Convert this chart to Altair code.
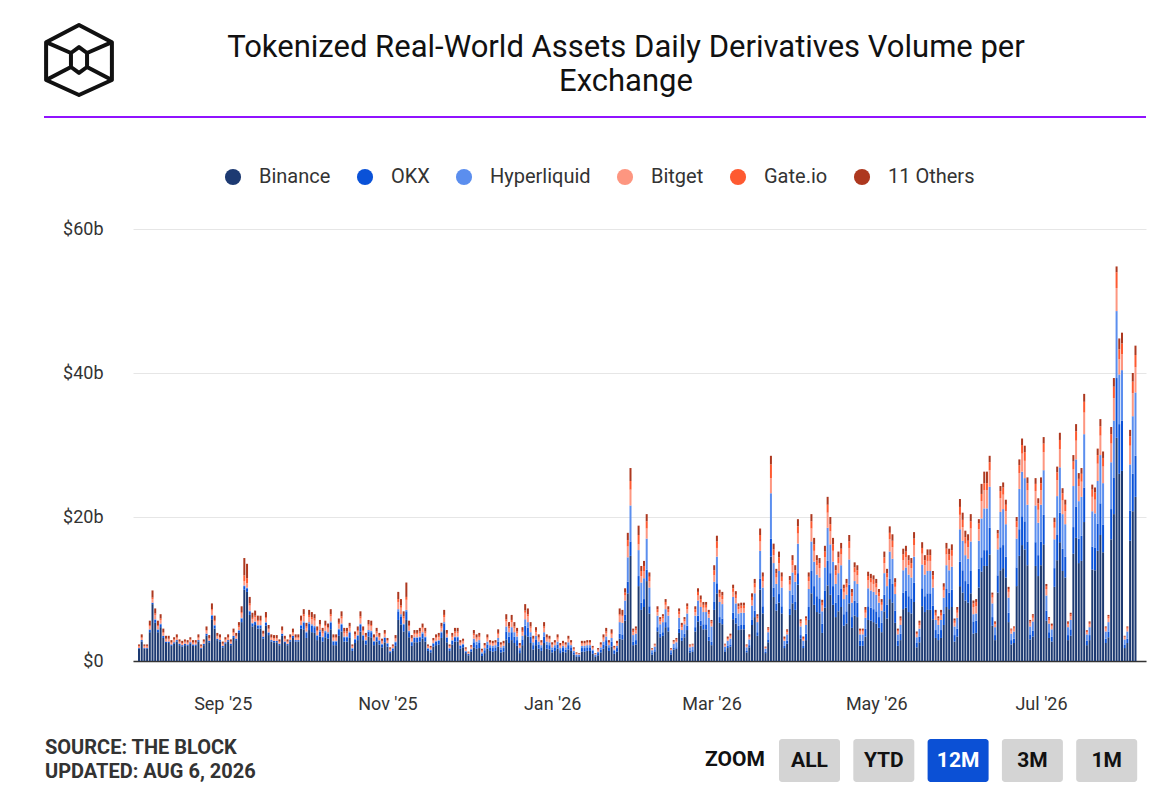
import altair as alt
import pandas as pd

# ---------------- data ----------------
dates = pd.date_range("2025-08-01", "2026-08-05", freq="D").strftime("%Y-%m-%d").tolist()

exchanges = ["Binance", "OKX", "Hyperliquid", "Bitget", "Gate.io", "11 Others"]
colors = ["#1d3a72", "#0a52d8", "#5b8eee", "#fd9680", "#fe5a31", "#ad381f"]

# daily volume, $b (one row = 10 days)
binance = [
    1.7, 2.7, 1.7, 1.7, 4.0, 7.9, 5.3, 4.0, 4.7, 3.2,
    2.5, 2.5, 2.1, 2.4, 2.7, 2.2, 2.0, 2.2, 2.1, 2.4,
    2.1, 2.1, 2.7, 1.7, 2.2, 3.5, 2.6, 5.8, 4.5, 2.9,
    2.7, 1.9, 2.4, 2.7, 2.2, 3.2, 2.9, 3.9, 5.4, 9.9,
    9.6, 6.4, 4.8, 5.0, 4.5, 4.5, 3.1, 4.9, 3.6, 2.7,
    2.6, 2.6, 2.2, 3.5, 2.5, 2.2, 2.7, 3.2, 2.7, 2.7,
    4.5, 4.4, 3.2, 4.3, 4.0, 3.9, 2.9, 3.4, 2.7, 3.3,
    3.1, 4.4, 2.2, 2.2, 3.5, 4.1, 2.7, 2.7, 3.2, 1.4,
    2.5, 2.9, 4.1, 2.9, 2.3, 3.4, 3.3, 2.2, 2.7, 2.3,
    1.9, 2.6, 2.0, 1.1, 1.4, 2.1, 5.7, 5.1, 4.1, 5.7,
    3.3, 2.1, 2.6, 2.6, 2.7, 3.1, 2.7, 1.4, 1.2, 2.0,
    2.2, 2.3, 3.2, 4.3, 2.6, 1.4, 2.3, 2.7, 2.7, 1.7,
    1.9, 1.1, 0.8, 1.3, 1.9, 1.7, 1.8, 0.7, 1.1, 1.7,
    1.4, 1.3, 1.4, 2.0, 1.2, 1.3, 3.0, 2.5, 2.9, 2.5,
    2.1, 1.1, 2.2, 3.6, 3.4, 2.5, 1.6, 2.2, 1.7, 1.4,
    2.5, 1.7, 1.6, 1.2, 1.4, 1.7, 1.1, 1.3, 1.2, 1.6,
    1.4, 0.9, 0.6, 0.6, 1.3, 1.3, 1.4, 1.4, 1.0, 0.6,
    0.8, 1.2, 1.7, 2.1, 1.4, 2.0, 1.0, 1.3, 3.1, 3.0,
    5.6, 9.4, 14.6, 2.2, 2.3, 10.4, 7.1, 7.5, 11.1, 6.6,
    0.9, 1.3, 4.1, 3.3, 3.5, 4.7, 4.1, 0.9, 1.6, 1.7,
    3.9, 2.8, 3.3, 4.3, 1.2, 1.3, 4.1, 5.5, 4.9, 4.4,
    4.4, 2.8, 2.2, 7.1, 9.4, 5.3, 5.1, 1.3, 1.8, 2.0,
    5.8, 5.2, 4.3, 4.4, 4.4, 1.2, 1.9, 5.0, 6.1, 3.5,
    9.9, 6.6, 1.1, 2.6, 14.5, 8.9, 7.0, 8.1, 6.6, 1.8,
    2.4, 6.4, 8.0, 7.1, 10.6, 3.1, 1.8, 2.9, 5.7, 9.4,
    7.8, 6.8, 6.6, 3.9, 7.4, 10.5, 9.2, 7.8, 6.1, 6.9,
    7.5, 4.9, 5.2, 8.0, 4.6, 6.3, 6.1, 2.1, 2.1, 3.4,
    5.7, 5.6, 5.4, 5.2, 4.6, 4.0, 6.9, 5.9, 8.6, 8.1,
    5.3, 2.1, 2.9, 7.2, 7.4, 6.8, 6.6, 8.2, 1.9, 2.6,
    7.6, 6.8, 7.1, 7.1, 5.8, 3.2, 2.9, 3.2, 5.0, 7.5,
    7.2, 7.5, 2.7, 3.4, 10.4, 9.5, 8.4, 8.1, 9.4, 3.8,
    3.9, 10.2, 12.4, 13.2, 13.2, 14.8, 4.9, 2.9, 9.5, 12.6,
    12.9, 11.6, 5.4, 2.3, 2.5, 10.4, 14.6, 16.1, 15.5, 13.3,
    3.0, 3.4, 13.2, 11.8, 13.3, 16.2, 5.6, 3.2, 2.7, 10.3,
    14.0, 16.5, 12.5, 11.6, 2.9, 3.5, 14.9, 17.1, 13.6, 13.9,
    19.3, 2.2, 2.9, 12.7, 12.6, 15.3, 17.5, 15.1, 2.5, 3.3,
    16.9, 20.4, 31.0, 26.0, 26.4, 1.8, 2.5, 16.7, 20.8, 22.8,
]

okx = [
    0.1, 0.2, 0.1, 0.1, 0.3, 0.2, 0.4, 0.3, 0.4, 0.3,
    0.2, 0.2, 0.2, 0.2, 0.2, 0.2, 0.2, 0.2, 0.2, 0.2,
    0.2, 0.2, 0.2, 0.1, 0.2, 0.3, 0.2, 0.5, 0.4, 0.2,
    0.2, 0.2, 0.2, 0.2, 0.2, 0.3, 0.2, 0.3, 0.5, 0.5,
    0.5, 0.5, 0.4, 0.4, 0.4, 0.4, 0.3, 0.4, 0.3, 0.2,
    0.2, 0.2, 0.2, 0.3, 0.2, 0.2, 0.2, 0.3, 0.2, 0.2,
    0.4, 0.9, 0.7, 0.9, 0.9, 0.8, 0.6, 0.7, 0.6, 0.7,
    0.7, 0.9, 0.5, 0.5, 0.8, 0.9, 0.6, 0.6, 0.7, 0.3,
    0.5, 0.6, 0.9, 0.6, 0.5, 0.7, 0.7, 0.5, 0.6, 0.5,
    0.4, 0.6, 0.4, 0.2, 0.3, 0.5, 1.2, 1.1, 0.9, 1.2,
    0.7, 0.5, 0.6, 0.6, 0.6, 0.7, 0.6, 0.3, 0.3, 0.4,
    0.5, 0.5, 0.7, 0.9, 0.6, 0.3, 0.5, 0.6, 0.6, 0.4,
    0.4, 0.2, 0.2, 0.3, 0.7, 0.6, 0.7, 0.3, 0.4, 0.6,
    0.5, 0.5, 0.5, 0.7, 0.4, 0.5, 1.1, 0.9, 1.1, 0.9,
    0.8, 0.4, 0.8, 1.3, 1.2, 0.9, 0.6, 0.8, 0.6, 0.5,
    0.9, 0.6, 0.6, 0.4, 0.5, 0.6, 0.4, 0.5, 0.4, 0.6,
    0.5, 0.3, 0.2, 0.2, 0.5, 0.5, 0.5, 0.5, 0.4, 0.2,
    0.3, 0.4, 0.6, 0.8, 0.5, 0.7, 0.4, 0.5, 0.7, 0.7,
    0.8, 1.6, 2.0, 0.5, 0.6, 1.4, 1.0, 1.1, 1.6, 1.0,
    0.2, 0.2, 0.6, 0.5, 0.5, 0.7, 0.6, 0.2, 0.2, 0.2,
    0.6, 0.4, 0.5, 0.6, 0.2, 0.2, 0.6, 0.8, 0.7, 0.7,
    0.7, 0.6, 0.5, 1.1, 1.4, 0.8, 0.8, 0.2, 0.3, 0.3,
    0.9, 0.8, 0.6, 0.6, 0.6, 0.2, 0.3, 0.7, 0.9, 0.5,
    1.5, 1.0, 0.2, 0.4, 2.5, 1.3, 1.0, 1.2, 1.0, 0.3,
    0.4, 0.9, 1.2, 1.1, 1.6, 0.5, 0.3, 0.9, 1.8, 3.1,
    2.6, 2.2, 2.1, 1.3, 2.4, 3.4, 3.0, 2.6, 2.0, 2.3,
    2.5, 1.6, 1.7, 2.6, 1.5, 2.1, 2.0, 0.7, 0.7, 1.1,
    1.9, 1.8, 1.8, 1.7, 1.5, 1.3, 2.3, 1.9, 2.8, 2.6,
    1.7, 0.7, 0.9, 2.3, 2.4, 2.2, 2.1, 2.7, 0.6, 0.8,
    2.5, 2.2, 2.3, 2.3, 1.9, 1.1, 0.9, 1.1, 1.6, 2.5,
    2.3, 2.4, 0.9, 1.1, 3.4, 3.1, 2.7, 2.6, 3.1, 1.7,
    1.7, 2.6, 2.0, 2.2, 2.2, 3.7, 1.2, 0.7, 2.4, 3.2,
    3.2, 2.9, 1.3, 0.6, 0.6, 2.6, 3.7, 4.0, 3.9, 3.3,
    0.7, 0.8, 3.3, 2.9, 3.3, 4.1, 1.4, 0.8, 0.7, 2.6,
    3.5, 4.1, 3.1, 2.9, 0.7, 0.9, 3.7, 4.3, 3.4, 3.5,
    4.8, 0.6, 0.7, 3.2, 3.1, 3.8, 4.4, 3.8, 0.6, 0.8,
    4.2, 5.1, 8.3, 6.9, 7.0, 0.5, 0.6, 4.2, 5.2, 5.7,
]

hyperliquid = [
    0.0, 0.0, 0.0, 0.0, 0.1, 0.0, 0.1, 0.1, 0.1, 0.0,
    0.0, 0.0, 0.0, 0.0, 0.0, 0.0, 0.0, 0.0, 0.0, 0.0,
    0.0, 0.0, 0.0, 0.0, 0.0, 0.0, 0.0, 0.1, 0.1, 0.0,
    0.0, 0.0, 0.0, 0.0, 0.0, 0.0, 0.0, 0.1, 0.1, 0.1,
    0.1, 0.1, 0.1, 0.1, 0.1, 0.1, 0.0, 0.1, 0.1, 0.0,
    0.0, 0.0, 0.0, 0.0, 0.0, 0.0, 0.0, 0.0, 0.0, 0.0,
    0.1, 0.2, 0.2, 0.2, 0.2, 0.2, 0.1, 0.2, 0.1, 0.2,
    0.2, 0.2, 0.1, 0.1, 0.2, 0.2, 0.1, 0.1, 0.2, 0.1,
    0.1, 0.1, 0.2, 0.1, 0.1, 0.2, 0.2, 0.1, 0.1, 0.1,
    0.1, 0.1, 0.1, 0.1, 0.1, 0.1, 0.3, 0.3, 0.2, 0.2,
    0.2, 0.1, 0.1, 0.1, 0.1, 0.2, 0.1, 0.1, 0.1, 0.1,
    0.1, 0.1, 0.2, 0.2, 0.1, 0.1, 0.1, 0.1, 0.1, 0.1,
    0.1, 0.1, 0.0, 0.1, 0.5, 0.4, 0.4, 0.2, 0.3, 0.4,
    0.3, 0.3, 0.3, 0.5, 0.3, 0.3, 0.7, 0.6, 0.7, 0.6,
    0.5, 0.3, 0.5, 0.9, 0.8, 0.6, 0.4, 0.5, 0.4, 0.3,
    0.6, 0.4, 0.4, 0.3, 0.3, 0.4, 0.3, 0.3, 0.3, 0.4,
    0.3, 0.2, 0.1, 0.1, 0.3, 0.3, 0.3, 0.3, 0.2, 0.1,
    0.2, 0.3, 0.4, 0.5, 0.3, 0.5, 0.2, 0.3, 1.6, 1.6,
    2.0, 3.4, 5.0, 0.9, 0.9, 3.6, 2.8, 2.9, 4.3, 2.6,
    0.4, 0.5, 1.6, 1.3, 1.4, 1.8, 1.6, 0.4, 0.6, 0.7,
    1.5, 1.1, 1.3, 1.7, 0.5, 0.5, 1.6, 2.1, 1.9, 1.7,
    1.7, 2.6, 2.1, 2.8, 3.7, 2.1, 2.0, 0.5, 0.7, 0.8,
    2.2, 2.0, 1.7, 1.7, 1.7, 0.5, 0.8, 2.0, 2.4, 1.4,
    3.9, 2.6, 0.4, 1.0, 6.3, 3.4, 2.7, 3.2, 2.6, 0.7,
    0.9, 2.5, 3.1, 2.8, 4.1, 1.2, 0.7, 1.2, 2.5, 4.1,
    3.4, 3.0, 2.9, 1.7, 3.2, 4.6, 4.0, 3.4, 2.6, 3.0,
    3.3, 2.1, 2.3, 3.5, 2.0, 2.7, 2.6, 0.9, 0.9, 1.5,
    2.5, 2.4, 2.4, 2.3, 2.0, 1.7, 3.0, 2.6, 3.8, 3.5,
    2.3, 0.9, 1.2, 3.1, 3.2, 3.0, 2.9, 3.6, 0.8, 1.1,
    3.3, 3.0, 3.1, 3.1, 2.5, 1.4, 1.2, 1.4, 2.2, 3.3,
    3.1, 3.2, 1.2, 1.5, 4.5, 4.1, 3.6, 3.5, 4.1, 1.0,
    1.0, 3.9, 5.4, 5.8, 5.8, 5.7, 1.9, 1.1, 3.6, 4.9,
    5.0, 4.5, 2.1, 0.9, 1.0, 4.0, 5.6, 6.2, 6.0, 5.1,
    1.1, 1.3, 5.1, 4.5, 5.1, 6.2, 2.1, 1.2, 1.0, 4.0,
    5.4, 6.3, 4.8, 4.5, 1.1, 1.3, 5.7, 6.6, 5.2, 5.4,
    7.4, 0.9, 1.1, 4.9, 4.8, 5.9, 6.7, 5.8, 1.0, 1.3,
    6.5, 7.9, 9.3, 6.9, 7.0, 0.7, 1.0, 6.4, 8.0, 8.8,
]

bitget = [
    0.2, 0.3, 0.2, 0.2, 0.4, 0.5, 0.6, 0.4, 0.5, 0.4,
    0.3, 0.3, 0.2, 0.3, 0.3, 0.2, 0.2, 0.2, 0.2, 0.3,
    0.2, 0.2, 0.3, 0.2, 0.2, 0.4, 0.3, 0.6, 0.5, 0.3,
    0.3, 0.2, 0.3, 0.3, 0.2, 0.4, 0.3, 0.4, 0.6, 0.6,
    0.6, 0.7, 0.5, 0.6, 0.5, 0.5, 0.3, 0.5, 0.4, 0.3,
    0.3, 0.3, 0.2, 0.4, 0.3, 0.2, 0.3, 0.4, 0.3, 0.3,
    0.5, 0.7, 0.5, 0.7, 0.7, 0.7, 0.5, 0.6, 0.5, 0.6,
    0.5, 0.7, 0.4, 0.4, 0.6, 0.7, 0.5, 0.5, 0.5, 0.2,
    0.4, 0.5, 0.7, 0.5, 0.4, 0.6, 0.6, 0.4, 0.5, 0.4,
    0.3, 0.4, 0.3, 0.2, 0.2, 0.4, 1.0, 0.9, 0.7, 1.4,
    0.6, 0.4, 0.4, 0.4, 0.5, 0.5, 0.5, 0.2, 0.2, 0.3,
    0.4, 0.4, 0.5, 0.7, 0.4, 0.2, 0.4, 0.5, 0.5, 0.3,
    0.3, 0.2, 0.1, 0.2, 0.5, 0.4, 0.4, 0.2, 0.3, 0.4,
    0.3, 0.3, 0.3, 0.5, 0.3, 0.3, 0.7, 0.6, 0.7, 0.6,
    0.5, 0.3, 0.5, 0.9, 0.8, 0.6, 0.4, 0.5, 0.4, 0.3,
    0.6, 0.4, 0.4, 0.3, 0.3, 0.4, 0.3, 0.3, 0.3, 0.4,
    0.3, 0.2, 0.1, 0.1, 0.3, 0.3, 0.3, 0.3, 0.2, 0.1,
    0.2, 0.3, 0.4, 0.5, 0.3, 0.5, 0.2, 0.3, 0.9, 0.9,
    0.7, 1.5, 2.2, 0.4, 0.5, 0.8, 0.9, 1.0, 1.4, 0.9,
    0.1, 0.2, 0.5, 0.4, 0.5, 0.6, 0.5, 0.1, 0.2, 0.2,
    0.5, 0.4, 0.4, 0.6, 0.2, 0.2, 0.5, 0.7, 0.6, 0.6,
    0.6, 0.5, 0.4, 0.9, 1.2, 0.7, 0.7, 0.2, 0.2, 0.3,
    0.7, 0.7, 0.6, 0.6, 0.6, 0.2, 0.3, 0.7, 0.8, 0.5,
    1.3, 0.9, 0.1, 0.3, 2.1, 1.1, 0.9, 1.1, 0.9, 0.2,
    0.3, 0.8, 1.0, 0.9, 1.4, 0.4, 0.2, 0.6, 1.1, 1.8,
    1.5, 1.3, 1.3, 0.8, 1.4, 2.1, 1.8, 1.5, 1.2, 1.4,
    1.5, 1.0, 1.0, 1.6, 0.9, 1.2, 1.2, 0.4, 0.4, 0.7,
    1.1, 1.1, 1.1, 1.0, 0.9, 0.8, 1.4, 1.2, 1.7, 1.6,
    1.0, 0.4, 0.6, 1.4, 1.4, 1.3, 1.3, 1.6, 0.4, 0.5,
    1.5, 1.3, 1.4, 1.4, 1.1, 0.6, 0.6, 0.6, 1.0, 1.5,
    1.4, 1.5, 0.5, 0.7, 2.0, 1.9, 1.6, 1.6, 1.8, 1.0,
    1.0, 1.6, 2.4, 2.5, 2.5, 2.3, 0.8, 0.4, 1.5, 1.9,
    2.0, 1.8, 0.8, 0.4, 0.4, 1.6, 2.2, 2.5, 2.4, 2.0,
    0.5, 0.5, 2.0, 1.8, 2.0, 2.5, 0.9, 0.5, 0.4, 1.6,
    2.2, 2.5, 1.9, 1.8, 0.4, 0.5, 2.3, 2.6, 2.1, 2.1,
    3.0, 0.3, 0.4, 2.0, 1.9, 2.4, 2.7, 2.3, 0.4, 0.5,
    2.6, 3.1, 3.2, 2.1, 2.2, 0.3, 0.4, 2.6, 3.2, 3.5,
]

gateio = [
    0.1, 0.1, 0.1, 0.1, 0.2, 0.2, 0.2, 0.2, 0.2, 0.1,
    0.1, 0.1, 0.1, 0.1, 0.1, 0.1, 0.1, 0.1, 0.1, 0.1,
    0.1, 0.1, 0.1, 0.1, 0.1, 0.1, 0.1, 0.2, 0.2, 0.1,
    0.1, 0.1, 0.1, 0.1, 0.1, 0.1, 0.1, 0.2, 0.2, 0.8,
    0.7, 0.3, 0.2, 0.2, 0.2, 0.2, 0.1, 0.2, 0.1, 0.1,
    0.1, 0.1, 0.1, 0.1, 0.1, 0.1, 0.1, 0.1, 0.1, 0.1,
    0.2, 0.3, 0.2, 0.3, 0.3, 0.3, 0.2, 0.2, 0.2, 0.2,
    0.2, 0.3, 0.1, 0.1, 0.2, 0.3, 0.2, 0.2, 0.2, 0.1,
    0.2, 0.2, 0.3, 0.2, 0.2, 0.2, 0.2, 0.1, 0.2, 0.2,
    0.1, 0.2, 0.1, 0.1, 0.1, 0.1, 0.4, 0.3, 0.3, 0.4,
    0.2, 0.1, 0.2, 0.2, 0.2, 0.2, 0.2, 0.1, 0.1, 0.1,
    0.1, 0.2, 0.2, 0.3, 0.2, 0.1, 0.2, 0.2, 0.2, 0.1,
    0.1, 0.1, 0.1, 0.1, 0.2, 0.2, 0.2, 0.1, 0.1, 0.2,
    0.1, 0.1, 0.1, 0.2, 0.1, 0.1, 0.3, 0.2, 0.3, 0.2,
    0.2, 0.1, 0.2, 0.3, 0.3, 0.2, 0.1, 0.2, 0.2, 0.1,
    0.2, 0.2, 0.1, 0.1, 0.1, 0.2, 0.1, 0.1, 0.1, 0.1,
    0.1, 0.1, 0.1, 0.0, 0.1, 0.1, 0.1, 0.1, 0.1, 0.0,
    0.1, 0.1, 0.2, 0.2, 0.1, 0.2, 0.1, 0.1, 0.2, 0.2,
    0.4, 0.9, 1.2, 0.2, 0.2, 1.3, 0.7, 0.7, 1.0, 0.6,
    0.1, 0.1, 0.4, 0.3, 0.3, 0.4, 0.4, 0.1, 0.1, 0.2,
    0.4, 0.3, 0.3, 0.4, 0.1, 0.1, 0.4, 0.5, 0.5, 0.4,
    0.4, 0.3, 0.3, 0.7, 0.9, 0.5, 0.5, 0.1, 0.2, 0.2,
    0.5, 0.5, 0.4, 0.4, 0.4, 0.1, 0.2, 0.5, 0.6, 0.3,
    0.9, 0.6, 0.1, 0.2, 1.9, 0.8, 0.6, 0.8, 0.6, 0.2,
    0.2, 0.6, 0.7, 0.7, 1.0, 0.3, 0.2, 0.3, 0.6, 1.0,
    0.9, 0.7, 0.7, 0.4, 0.8, 1.1, 1.0, 0.9, 0.7, 0.8,
    0.8, 0.5, 0.6, 0.9, 0.5, 0.7, 0.7, 0.2, 0.2, 0.4,
    0.6, 0.6, 0.6, 0.6, 0.5, 0.4, 0.8, 0.6, 0.9, 0.9,
    0.6, 0.2, 0.3, 0.8, 0.8, 0.7, 0.7, 0.9, 0.2, 0.3,
    0.8, 0.7, 0.8, 0.8, 0.6, 0.4, 0.3, 0.4, 0.5, 0.8,
    0.8, 0.8, 0.3, 0.4, 1.1, 1.0, 0.9, 0.9, 1.0, 0.5,
    0.6, 0.8, 1.0, 1.0, 1.0, 1.1, 0.4, 0.2, 0.7, 1.0,
    1.0, 0.9, 0.4, 0.2, 0.2, 0.8, 1.1, 1.2, 1.2, 1.0,
    0.2, 0.3, 1.0, 0.9, 1.0, 1.2, 0.4, 0.2, 0.2, 0.8,
    1.1, 1.3, 1.0, 0.9, 0.2, 0.3, 1.1, 1.3, 1.0, 1.1,
    1.5, 0.2, 0.2, 1.0, 1.0, 1.2, 1.3, 1.2, 0.2, 0.3,
    1.3, 1.6, 2.2, 1.4, 1.5, 0.1, 0.2, 1.3, 1.6, 1.7,
]

others = [
    0.2, 0.4, 0.2, 0.2, 0.6, 1.0, 0.7, 0.6, 0.6, 0.5,
    0.4, 0.4, 0.3, 0.3, 0.4, 0.3, 0.3, 0.3, 0.3, 0.3,
    0.3, 0.3, 0.4, 0.2, 0.3, 0.5, 0.4, 0.8, 0.6, 0.4,
    0.4, 0.3, 0.3, 0.4, 0.3, 0.5, 0.4, 0.5, 0.8, 2.4,
    2.0, 0.9, 0.7, 0.7, 0.6, 0.6, 0.4, 0.7, 0.5, 0.4,
    0.4, 0.4, 0.3, 0.5, 0.4, 0.3, 0.4, 0.5, 0.4, 0.4,
    0.6, 0.7, 0.5, 0.7, 0.7, 0.6, 0.5, 0.6, 0.5, 0.6,
    0.5, 0.7, 0.4, 0.4, 0.6, 0.7, 0.5, 0.5, 0.5, 0.2,
    0.4, 0.5, 0.7, 0.5, 0.4, 0.6, 0.6, 0.4, 0.5, 0.4,
    0.3, 0.4, 0.3, 0.2, 0.2, 0.4, 1.0, 0.9, 0.7, 2.0,
    0.6, 0.4, 0.4, 0.4, 0.5, 0.5, 0.5, 0.2, 0.2, 0.3,
    0.4, 0.4, 0.5, 0.7, 0.4, 0.2, 0.4, 0.5, 0.5, 0.3,
    0.3, 0.2, 0.1, 0.2, 0.5, 0.4, 0.4, 0.2, 0.3, 0.4,
    0.3, 0.3, 0.3, 0.5, 0.3, 0.3, 0.7, 0.6, 0.7, 0.6,
    0.5, 0.3, 0.5, 0.9, 0.8, 0.6, 0.4, 0.5, 0.4, 0.3,
    0.6, 0.4, 0.4, 0.3, 0.3, 0.4, 0.3, 0.3, 0.3, 0.4,
    0.3, 0.2, 0.1, 0.1, 0.3, 0.3, 0.3, 0.3, 0.2, 0.1,
    0.2, 0.3, 0.4, 0.5, 0.3, 0.5, 0.2, 0.3, 0.8, 0.7,
    0.6, 1.0, 1.8, 0.3, 0.3, 1.3, 0.7, 0.7, 1.0, 0.6,
    0.1, 0.1, 0.4, 0.3, 0.3, 0.4, 0.4, 0.1, 0.2, 0.2,
    0.4, 0.3, 0.3, 0.4, 0.1, 0.1, 0.4, 0.5, 0.5, 0.4,
    0.4, 0.3, 0.2, 0.7, 0.8, 0.5, 0.5, 0.1, 0.2, 0.2,
    0.5, 0.5, 0.4, 0.4, 0.4, 0.1, 0.2, 0.5, 0.6, 0.3,
    0.9, 0.6, 0.1, 0.2, 1.2, 0.8, 0.6, 0.8, 0.6, 0.2,
    0.2, 0.6, 0.7, 0.7, 1.0, 0.3, 0.2, 0.3, 0.6, 1.0,
    0.9, 0.7, 0.7, 0.4, 0.8, 1.1, 1.0, 0.9, 0.7, 0.8,
    0.8, 0.5, 0.6, 0.9, 0.5, 0.7, 0.7, 0.2, 0.2, 0.4,
    0.6, 0.6, 0.6, 0.6, 0.5, 0.4, 0.8, 0.6, 0.9, 0.9,
    0.6, 0.2, 0.3, 0.8, 0.8, 0.7, 0.7, 0.9, 0.2, 0.3,
    0.8, 0.7, 0.8, 0.8, 0.6, 0.4, 0.3, 0.4, 0.5, 0.8,
    0.8, 0.8, 0.3, 0.4, 1.1, 1.0, 0.9, 0.9, 1.0, 0.4,
    0.4, 0.6, 1.4, 1.6, 1.6, 0.9, 0.3, 0.2, 0.5, 0.7,
    0.7, 0.7, 0.3, 0.1, 0.1, 0.6, 0.8, 0.9, 0.9, 0.8,
    0.2, 0.2, 0.8, 0.7, 0.8, 0.9, 0.3, 0.2, 0.2, 0.6,
    0.8, 1.0, 0.7, 0.7, 0.2, 0.2, 0.9, 1.0, 0.8, 0.8,
    1.1, 0.1, 0.2, 0.7, 0.7, 0.9, 1.0, 0.9, 0.1, 0.2,
    1.0, 1.2, 0.8, 1.5, 1.5, 0.1, 0.1, 0.9, 1.2, 1.3,
]

series = [binance, okx, hyperliquid, bitget, gateio, others]
for name, s in zip(exchanges, series):
    if len(s) != len(dates):
        raise ValueError(f"{name}: {len(s)} values for {len(dates)} dates")

rows = []
for k, (name, s) in enumerate(zip(exchanges, series)):
    for d, v in zip(dates, s):
        rows.append({"date": d, "exchange": name, "value": v, "order": k})
df = pd.DataFrame(rows)

# ---------------- layout ----------------
W, H = 1013, 432
FONT = "Roboto"

x_dom = [alt.DateTime(year=2025, month=7, date=31, hours=15, utc=True),
         alt.DateTime(year=2026, month=8, date=7, hours=1, utc=True)]
tick_vals = [alt.DateTime(year=y, month=m, date=1, utc=True)
             for y, m in [(2025, 9), (2025, 11), (2026, 1), (2026, 3), (2026, 5), (2026, 7)]]

bars = alt.Chart(df).mark_bar(width=2).encode(
    x=alt.X("date:T", title=None,
            scale=alt.Scale(type="utc", domain=x_dom),
            axis=alt.Axis(values=tick_vals,
                          labelExpr="utcFormat(datum.value, \"%b '%y\")",
                          grid=False, ticks=False, tickSize=0, labelPadding=34,
                          labelFontSize=18, labelColor="#333333", labelFont=FONT,
                          domainColor="#333333", domainWidth=1.5)),
    y=alt.Y("value:Q", stack="zero", title=None,
            scale=alt.Scale(domain=[0, 60], nice=False),
            axis=alt.Axis(values=[0, 20, 40, 60],
                          labelExpr="datum.value == 0 ? '$0' : '$' + datum.value + 'b'",
                          ticks=False, tickSize=0, domain=False,
                          gridColor="#e6e6e6", gridWidth=1, labelPadding=30,
                          labelFontSize=18, labelColor="#333333", labelFont=FONT)),
    color=alt.Color("exchange:N",
                    scale=alt.Scale(domain=exchanges, range=colors),
                    legend=alt.Legend(title=None, orient="none", legendX=90, legendY=-62,
                                      direction="horizontal", symbolType="circle",
                                      symbolSize=260, symbolStrokeWidth=0,
                                      labelFontSize=20, labelFont=FONT, labelColor="#333333",
                                      labelOffset=16, columnPadding=24, padding=0)),
    order=alt.Order("order:Q", sort="ascending"),
)

one = pd.DataFrame({"t": [""]})


def text_layer(txt, x, y, size, weight="normal", color="#111111", align="center"):
    return alt.Chart(pd.DataFrame({"t": [txt]})).mark_text(
        fontSize=size, fontWeight=weight, color=color, align=align,
        baseline="middle", font=FONT
    ).encode(x=alt.value(x), y=alt.value(y), text="t:N")


title1 = text_layer("Tokenized Real-World Assets Daily Derivatives Volume per", 493, -181, 31)
title2 = text_layer("Exchange", 493, -147, 31)

purple = alt.Chart(one).mark_rule(color="#9013fe", strokeWidth=2).encode(
    x=alt.value(-89), x2=alt.value(1013), y=alt.value(-112))

LOGO = ("M0,-1 L0.94,-0.51 L0.94,0.57 L0,1 L-0.94,0.57 L-0.94,-0.51 Z "
        "M0,-0.37 L0.23,-0.2 L0.23,0.2 L0,0.37 L-0.23,0.2 L-0.23,-0.2 Z "
        "M-0.94,-0.51 L-0.23,-0.2 M0.94,-0.51 L0.23,-0.2 "
        "M-0.94,0.57 L-0.23,0.2 M0.94,0.57 L0.23,0.2")
logo = alt.Chart(one).mark_point(shape=LOGO, size=4900, filled=False, stroke="#111111",
                                 strokeWidth=4, opacity=1, strokeJoin="round").encode(
    x=alt.value(-54), y=alt.value(-169))

source = text_layer("SOURCE: THE BLOCK", -88, 519, 20, "bold", "#333333", "left")
updated = text_layer("UPDATED: AUG 6, 2026", -88, 543, 20, "bold", "#333333", "left")
zoom_lbl = text_layer("ZOOM", 602, 531, 21, "bold", "#111111")

buttons = ["ALL", "YTD", "12M", "3M", "1M"]
btn_layers = []
for k, lab in enumerate(buttons):
    x0 = 646 + k * 74.3
    active = lab == "12M"
    btn_layers.append(
        alt.Chart(one).mark_rect(color="#0b50d5" if active else "#d4d4d4", cornerRadius=3).encode(
            x=alt.value(x0), x2=alt.value(x0 + 61), y=alt.value(510), y2=alt.value(553)))
    btn_layers.append(text_layer(lab, x0 + 30.5, 532, 21, "bold",
                                 "#ffffff" if active else "#111111"))

chart = alt.layer(bars, title1, title2, purple, logo, source, updated, zoom_lbl, *btn_layers).properties(
    width=W, height=H,
    padding={"left": 125, "top": 221, "right": 8, "bottom": 127},
    autosize=alt.AutoSizeParams(type="none"),
    background="white",
).configure_view(stroke=None)

chart.save("out.html", embed_options={"renderer": "svg", "actions": False})
